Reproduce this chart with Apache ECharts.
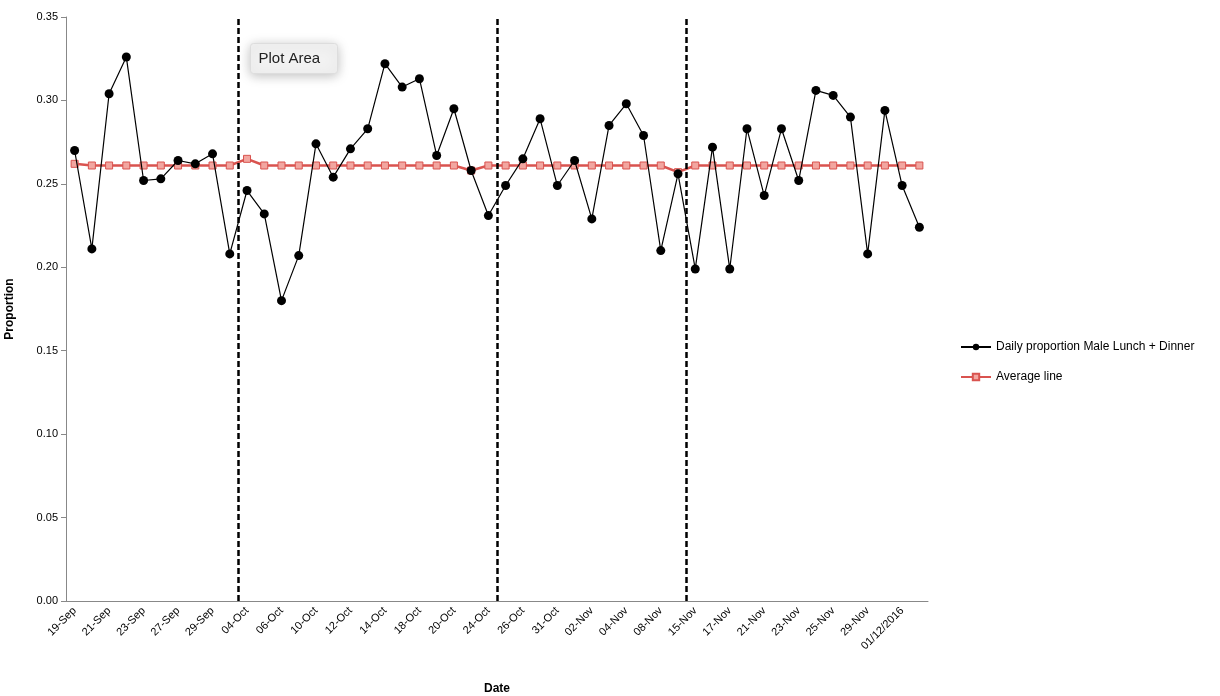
<html>
<head>
<meta charset="utf-8">
<title>Daily proportion</title>
<style>
  html, body { margin: 0; padding: 0; background: #fff; }
  #chart { width: 1220px; height: 696px; }
</style>
</head>
<body>
<div id="chart"></div>
<script src="https://cdn.jsdelivr.net/npm/echarts@6/dist/echarts.min.js"></script>
<script>
// categories (dates)
var dates = ['19-Sep','20-Sep','21-Sep','22-Sep','23-Sep','26-Sep','27-Sep','28-Sep','29-Sep','30-Sep',
  '04-Oct','05-Oct','06-Oct','07-Oct','10-Oct','11-Oct','12-Oct','13-Oct','14-Oct','17-Oct',
  '18-Oct','19-Oct','20-Oct','21-Oct','24-Oct','25-Oct','26-Oct','27-Oct','31-Oct','01-Nov',
  '02-Nov','03-Nov','04-Nov','07-Nov','08-Nov','14-Nov','15-Nov','16-Nov','17-Nov','18-Nov',
  '21-Nov','22-Nov','23-Nov','24-Nov','25-Nov','28-Nov','29-Nov','30-Nov','01/12/2016','02/12/2016'];

// daily proportion male lunch + dinner
var dailyProp = [0.270,0.211,0.304,0.326,0.252,0.253,0.264,0.262,0.268,0.208,
  0.246,0.232,0.180,0.207,0.274,0.254,0.271,0.283,0.322,0.308,
  0.313,0.267,0.295,0.258,0.231,0.249,0.265,0.289,0.249,0.264,
  0.229,0.285,0.298,0.279,0.210,0.256,0.199,0.272,0.199,0.283,
  0.243,0.283,0.252,0.306,0.303,0.290,0.208,0.294,0.249,0.224];

// average line
var avgLine = [0.262,0.261,0.261,0.261,0.261,0.261,0.261,0.261,0.261,0.261,
  0.265,0.261,0.261,0.261,0.261,0.261,0.261,0.261,0.261,0.261,
  0.261,0.261,0.261,0.258,0.261,0.261,0.261,0.261,0.261,0.261,
  0.261,0.261,0.261,0.261,0.261,0.257,0.261,0.261,0.261,0.261,
  0.261,0.261,0.261,0.261,0.261,0.261,0.261,0.261,0.261,0.261];

// phase boundaries (category edge positions)
var phaseBreaks = [10, 25, 36];

var chart = echarts.init(document.getElementById('chart'));
chart.setOption({
  animation: false,
  textStyle: { fontFamily: 'Liberation Sans' },
  grid: { left: 66, right: 292, top: 17, bottom: 95, outerBoundsMode: 'none' },
  legend: {
    orient: 'vertical', left: 955, top: 336, itemGap: 18,
    itemWidth: 30, itemHeight: 8,
    textStyle: { fontSize: 12, color: '#000' },
    data: ['Daily proportion Male Lunch + Dinner', 'Average line']
  },
  xAxis: [{
    type: 'category', data: dates, boundaryGap: true,
    name: 'Date', nameLocation: 'middle', nameGap: 82,
    nameTextStyle: { fontWeight: 'bold', fontSize: 12, color: '#000' },
    axisLine: { lineStyle: { color: '#888' } },
    axisTick: { interval: 0, lineStyle: { color: '#888' } },
    axisLabel: { interval: 1, rotate: 45, fontSize: 11, color: '#000' }
  }, {
    type: 'value', min: 0, max: 50, show: false
  }],
  yAxis: {
    type: 'value', min: 0, max: 0.35, interval: 0.05,
    name: 'Proportion', nameLocation: 'middle', nameGap: 50,
    nameTextStyle: { fontWeight: 'bold', fontSize: 12, color: '#000' },
    axisLine: { show: true, lineStyle: { color: '#888' } },
    axisTick: { show: true, lineStyle: { color: '#888' } },
    splitLine: { show: false },
    axisLabel: { fontSize: 11, color: '#000', formatter: function (v) { return v.toFixed(2); } }
  },
  series: [{
    name: 'Daily proportion Male Lunch + Dinner', type: 'line', data: dailyProp,
    symbol: 'circle', symbolSize: 9,
    itemStyle: { color: '#000' }, lineStyle: { color: '#000', width: 1.2 }, z: 3
  }, {
    name: 'Average line', type: 'line', data: avgLine,
    symbol: 'rect', symbolSize: 7,
    itemStyle: { color: '#f2a6a0', borderColor: '#d9534f', borderWidth: 1 },
    lineStyle: { color: '#d9534f', width: 2.5 }, z: 2
  }, {
    type: 'line', xAxisIndex: 1, data: [],
    markLine: {
      silent: true, symbol: 'none', label: { show: false },
      lineStyle: { color: '#000', type: [6, 3], width: 2.5 },
      data: phaseBreaks.map(function (b) { return { xAxis: b }; })
    }
  }],
  graphic: [{
    type: 'group', left: 250, top: 43,
    children: [{
      type: 'rect', shape: { x: 0, y: 0, width: 87, height: 30, r: 3 },
      style: { fill: '#f2f2f2', stroke: '#ddd', shadowBlur: 12, shadowColor: 'rgba(0,0,0,0.25)', shadowOffsetY: 2 }
    }, {
      type: 'text', x: 8, y: 8,
      style: { text: 'Plot Area', fontSize: 15, fill: '#222', fontFamily: 'Liberation Sans' }
    }]
  }]
});
</script>
</body>
</html>
